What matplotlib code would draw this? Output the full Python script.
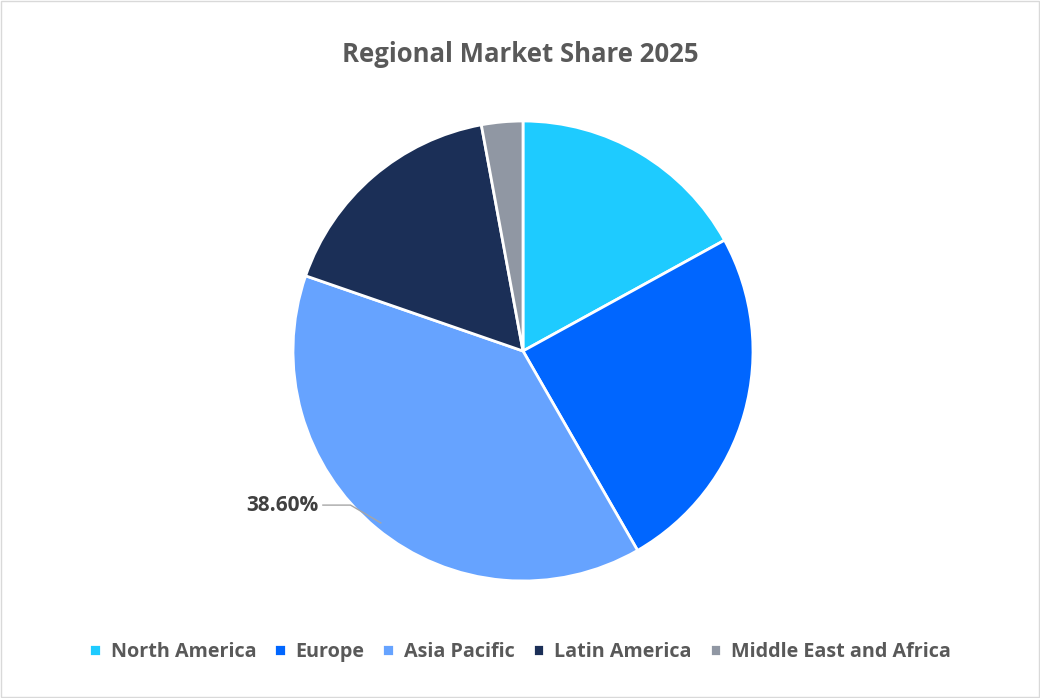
import matplotlib.pyplot as plt
import numpy as np

regions = ["North America", "Europe", "Asia Pacific", "Latin America", "Middle East and Africa"]
shares = [17.0, 24.7, 38.6, 16.8, 2.9]
colors = ["#1ECBFF", "#0066FF", "#66A3FF", "#1B2F57", "#9097A3"]

plt.rcParams["font.family"] = ["Open Sans", "DejaVu Sans"]

fig = plt.figure(figsize=(10.4, 6.98), dpi=100)
fig.patches.append(plt.Rectangle((0.001, 0.001), 0.998, 0.998, transform=fig.transFigure,
                                 fill=False, edgecolor="#D9D9D9", linewidth=1))
ax = fig.add_axes([293 / 1040, 117 / 698, 460 / 1040, 460 / 698])
wedges, _ = ax.pie(shares, colors=colors, startangle=90, counterclock=False,
                   wedgeprops=dict(edgecolor="white", linewidth=2))
ax.set_xlim(-1, 1)
ax.set_ylim(-1, 1)
ax.set_aspect("equal")

# only the Asia Pacific slice carries a label, with a bent leader line
w = wedges[2]
mid = np.deg2rad((w.theta1 + w.theta2) / 2)
ex, ey = 0.97 * np.cos(mid), 0.97 * np.sin(mid)
ax.plot([ex, -0.75, -0.87], [ey, -0.67, -0.67], color="#A6A6A6", lw=1, clip_on=False)
ax.text(-0.89, -0.67, f"{shares[2]:.2f}%", ha="right", va="center",
        fontsize=15, fontweight="bold", color="#404040")

fig.text(0.5, 0.922, "Regional Market Share 2025", ha="center", va="center",
         fontsize=18.5, fontweight="bold", color="#595959")
fig.legend(wedges, regions, loc="center", bbox_to_anchor=(0.5, 0.066), ncol=5, frameon=False,
           handlelength=0.6, handleheight=0.6, columnspacing=0.9, handletextpad=0.5,
           labelcolor="#595959", prop=dict(weight="bold", size=14.2))

fig.savefig("out.png", dpi=100)
